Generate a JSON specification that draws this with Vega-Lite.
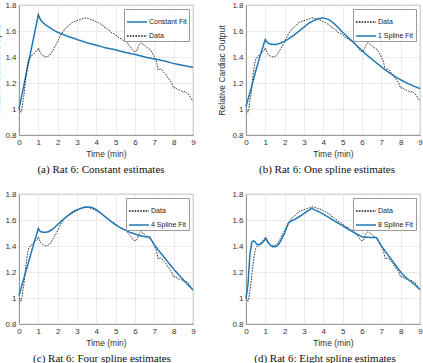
{
  "$schema": "https://vega.github.io/schema/vega-lite/v6.json",
  "padding": {"left": -8, "top": 0, "right": 0, "bottom": 0},
  "background": "white",
  "datasets": {
    "obs": [
      {"t": 0.0, "v": 1.0, "series": "Data"}, {"t": 0.05, "v": 0.99, "series": "Data"}, {"t": 0.1, "v": 0.975, "series": "Data"},
      {"t": 0.15, "v": 1.0, "series": "Data"}, {"t": 0.2, "v": 1.06, "series": "Data"}, {"t": 0.25, "v": 1.1, "series": "Data"},
      {"t": 0.3, "v": 1.17, "series": "Data"}, {"t": 0.35, "v": 1.24, "series": "Data"}, {"t": 0.4, "v": 1.3, "series": "Data"},
      {"t": 0.45, "v": 1.35, "series": "Data"}, {"t": 0.5, "v": 1.38, "series": "Data"}, {"t": 0.6, "v": 1.405, "series": "Data"},
      {"t": 0.7, "v": 1.415, "series": "Data"}, {"t": 0.8, "v": 1.43, "series": "Data"}, {"t": 0.85, "v": 1.44, "series": "Data"},
      {"t": 0.9, "v": 1.445, "series": "Data"}, {"t": 0.95, "v": 1.45, "series": "Data"}, {"t": 1.0, "v": 1.47, "series": "Data"},
      {"t": 1.05, "v": 1.455, "series": "Data"}, {"t": 1.1, "v": 1.43, "series": "Data"}, {"t": 1.2, "v": 1.415, "series": "Data"},
      {"t": 1.3, "v": 1.405, "series": "Data"}, {"t": 1.4, "v": 1.4, "series": "Data"}, {"t": 1.5, "v": 1.405, "series": "Data"},
      {"t": 1.6, "v": 1.415, "series": "Data"}, {"t": 1.7, "v": 1.44, "series": "Data"}, {"t": 1.8, "v": 1.465, "series": "Data"},
      {"t": 1.9, "v": 1.49, "series": "Data"}, {"t": 2.0, "v": 1.52, "series": "Data"}, {"t": 2.1, "v": 1.55, "series": "Data"},
      {"t": 2.2, "v": 1.58, "series": "Data"}, {"t": 2.3, "v": 1.6, "series": "Data"}, {"t": 2.4, "v": 1.62, "series": "Data"},
      {"t": 2.5, "v": 1.63, "series": "Data"}, {"t": 2.6, "v": 1.645, "series": "Data"}, {"t": 2.7, "v": 1.66, "series": "Data"},
      {"t": 2.8, "v": 1.67, "series": "Data"}, {"t": 2.9, "v": 1.675, "series": "Data"}, {"t": 3.0, "v": 1.68, "series": "Data"},
      {"t": 3.1, "v": 1.685, "series": "Data"}, {"t": 3.2, "v": 1.69, "series": "Data"}, {"t": 3.3, "v": 1.695, "series": "Data"},
      {"t": 3.4, "v": 1.7, "series": "Data"}, {"t": 3.5, "v": 1.7, "series": "Data"}, {"t": 3.6, "v": 1.695, "series": "Data"},
      {"t": 3.7, "v": 1.69, "series": "Data"}, {"t": 3.8, "v": 1.685, "series": "Data"}, {"t": 3.9, "v": 1.68, "series": "Data"},
      {"t": 4.0, "v": 1.67, "series": "Data"}, {"t": 4.1, "v": 1.665, "series": "Data"}, {"t": 4.2, "v": 1.655, "series": "Data"},
      {"t": 4.3, "v": 1.65, "series": "Data"}, {"t": 4.4, "v": 1.63, "series": "Data"}, {"t": 4.5, "v": 1.625, "series": "Data"},
      {"t": 4.6, "v": 1.61, "series": "Data"}, {"t": 4.7, "v": 1.6, "series": "Data"}, {"t": 4.8, "v": 1.585, "series": "Data"},
      {"t": 4.9, "v": 1.58, "series": "Data"}, {"t": 5.0, "v": 1.57, "series": "Data"}, {"t": 5.1, "v": 1.555, "series": "Data"},
      {"t": 5.2, "v": 1.545, "series": "Data"}, {"t": 5.3, "v": 1.54, "series": "Data"}, {"t": 5.4, "v": 1.525, "series": "Data"},
      {"t": 5.5, "v": 1.52, "series": "Data"}, {"t": 5.6, "v": 1.51, "series": "Data"}, {"t": 5.7, "v": 1.49, "series": "Data"},
      {"t": 5.8, "v": 1.47, "series": "Data"}, {"t": 5.9, "v": 1.45, "series": "Data"}, {"t": 6.0, "v": 1.44, "series": "Data"},
      {"t": 6.1, "v": 1.45, "series": "Data"}, {"t": 6.2, "v": 1.49, "series": "Data"}, {"t": 6.3, "v": 1.51, "series": "Data"},
      {"t": 6.4, "v": 1.5, "series": "Data"}, {"t": 6.5, "v": 1.49, "series": "Data"}, {"t": 6.6, "v": 1.475, "series": "Data"},
      {"t": 6.7, "v": 1.465, "series": "Data"}, {"t": 6.8, "v": 1.455, "series": "Data"}, {"t": 6.9, "v": 1.43, "series": "Data"},
      {"t": 7.0, "v": 1.4, "series": "Data"}, {"t": 7.1, "v": 1.37, "series": "Data"}, {"t": 7.2, "v": 1.3, "series": "Data"},
      {"t": 7.3, "v": 1.31, "series": "Data"}, {"t": 7.4, "v": 1.3, "series": "Data"}, {"t": 7.5, "v": 1.28, "series": "Data"},
      {"t": 7.6, "v": 1.265, "series": "Data"}, {"t": 7.7, "v": 1.24, "series": "Data"}, {"t": 7.8, "v": 1.22, "series": "Data"},
      {"t": 7.9, "v": 1.2, "series": "Data"}, {"t": 8.0, "v": 1.16, "series": "Data"}, {"t": 8.1, "v": 1.165, "series": "Data"},
      {"t": 8.2, "v": 1.15, "series": "Data"}, {"t": 8.3, "v": 1.145, "series": "Data"}, {"t": 8.4, "v": 1.14, "series": "Data"},
      {"t": 8.5, "v": 1.13, "series": "Data"}, {"t": 8.6, "v": 1.135, "series": "Data"}, {"t": 8.7, "v": 1.12, "series": "Data"},
      {"t": 8.8, "v": 1.11, "series": "Data"}, {"t": 8.9, "v": 1.08, "series": "Data"}, {"t": 9.0, "v": 1.06, "series": "Data"}
    ],
    "fitA": [
      {"t": 0, "v": 1.0, "series": "Constant Fit"}, {"t": 1.0, "v": 1.725, "series": "Constant Fit"}, {"t": 1.1, "v": 1.69, "series": "Constant Fit"},
      {"t": 1.2, "v": 1.67, "series": "Constant Fit"}, {"t": 1.35, "v": 1.65, "series": "Constant Fit"}, {"t": 1.5, "v": 1.635, "series": "Constant Fit"},
      {"t": 1.75, "v": 1.61, "series": "Constant Fit"}, {"t": 2.0, "v": 1.59, "series": "Constant Fit"}, {"t": 2.5, "v": 1.56, "series": "Constant Fit"},
      {"t": 3.0, "v": 1.535, "series": "Constant Fit"}, {"t": 3.5, "v": 1.51, "series": "Constant Fit"}, {"t": 4.0, "v": 1.49, "series": "Constant Fit"},
      {"t": 4.5, "v": 1.47, "series": "Constant Fit"}, {"t": 5.0, "v": 1.455, "series": "Constant Fit"}, {"t": 5.5, "v": 1.435, "series": "Constant Fit"},
      {"t": 6.0, "v": 1.42, "series": "Constant Fit"}, {"t": 6.5, "v": 1.4, "series": "Constant Fit"}, {"t": 7.0, "v": 1.385, "series": "Constant Fit"},
      {"t": 7.5, "v": 1.37, "series": "Constant Fit"}, {"t": 8.0, "v": 1.35, "series": "Constant Fit"}, {"t": 8.5, "v": 1.335, "series": "Constant Fit"},
      {"t": 9.0, "v": 1.32, "series": "Constant Fit"}
    ],
    "fitB": [
      {"t": 0, "v": 1.02, "series": "1 Spline Fit"}, {"t": 0.25, "v": 1.15, "series": "1 Spline Fit"}, {"t": 0.5, "v": 1.29, "series": "1 Spline Fit"},
      {"t": 0.75, "v": 1.42, "series": "1 Spline Fit"}, {"t": 1.0, "v": 1.535, "series": "1 Spline Fit"}, {"t": 1.1, "v": 1.51, "series": "1 Spline Fit"},
      {"t": 1.25, "v": 1.5, "series": "1 Spline Fit"}, {"t": 1.5, "v": 1.495, "series": "1 Spline Fit"}, {"t": 1.75, "v": 1.505, "series": "1 Spline Fit"},
      {"t": 2.0, "v": 1.52, "series": "1 Spline Fit"}, {"t": 2.25, "v": 1.545, "series": "1 Spline Fit"}, {"t": 2.5, "v": 1.57, "series": "1 Spline Fit"},
      {"t": 2.75, "v": 1.6, "series": "1 Spline Fit"}, {"t": 3.0, "v": 1.63, "series": "1 Spline Fit"}, {"t": 3.25, "v": 1.66, "series": "1 Spline Fit"},
      {"t": 3.5, "v": 1.68, "series": "1 Spline Fit"}, {"t": 3.75, "v": 1.695, "series": "1 Spline Fit"}, {"t": 4.0, "v": 1.7, "series": "1 Spline Fit"},
      {"t": 4.25, "v": 1.69, "series": "1 Spline Fit"}, {"t": 4.5, "v": 1.665, "series": "1 Spline Fit"}, {"t": 4.75, "v": 1.63, "series": "1 Spline Fit"},
      {"t": 5.0, "v": 1.59, "series": "1 Spline Fit"}, {"t": 5.25, "v": 1.555, "series": "1 Spline Fit"}, {"t": 5.5, "v": 1.52, "series": "1 Spline Fit"},
      {"t": 5.75, "v": 1.485, "series": "1 Spline Fit"}, {"t": 6.0, "v": 1.45, "series": "1 Spline Fit"}, {"t": 6.25, "v": 1.415, "series": "1 Spline Fit"},
      {"t": 6.5, "v": 1.385, "series": "1 Spline Fit"}, {"t": 6.75, "v": 1.355, "series": "1 Spline Fit"}, {"t": 7.0, "v": 1.325, "series": "1 Spline Fit"},
      {"t": 7.25, "v": 1.295, "series": "1 Spline Fit"}, {"t": 7.5, "v": 1.27, "series": "1 Spline Fit"}, {"t": 7.75, "v": 1.245, "series": "1 Spline Fit"},
      {"t": 8.0, "v": 1.225, "series": "1 Spline Fit"}, {"t": 8.25, "v": 1.205, "series": "1 Spline Fit"}, {"t": 8.5, "v": 1.188, "series": "1 Spline Fit"},
      {"t": 8.75, "v": 1.172, "series": "1 Spline Fit"}, {"t": 9.0, "v": 1.157, "series": "1 Spline Fit"}
    ],
    "fitC": [
      {"t": 0, "v": 1.02, "series": "4 Spline Fit"}, {"t": 0.25, "v": 1.15, "series": "4 Spline Fit"}, {"t": 0.5, "v": 1.28, "series": "4 Spline Fit"},
      {"t": 0.75, "v": 1.41, "series": "4 Spline Fit"}, {"t": 1.0, "v": 1.535, "series": "4 Spline Fit"}, {"t": 1.1, "v": 1.512, "series": "4 Spline Fit"},
      {"t": 1.25, "v": 1.505, "series": "4 Spline Fit"}, {"t": 1.5, "v": 1.508, "series": "4 Spline Fit"}, {"t": 1.75, "v": 1.53, "series": "4 Spline Fit"},
      {"t": 2.0, "v": 1.565, "series": "4 Spline Fit"}, {"t": 2.25, "v": 1.6, "series": "4 Spline Fit"}, {"t": 2.5, "v": 1.63, "series": "4 Spline Fit"},
      {"t": 2.75, "v": 1.655, "series": "4 Spline Fit"}, {"t": 3.0, "v": 1.677, "series": "4 Spline Fit"}, {"t": 3.25, "v": 1.692, "series": "4 Spline Fit"},
      {"t": 3.5, "v": 1.7, "series": "4 Spline Fit"}, {"t": 3.75, "v": 1.698, "series": "4 Spline Fit"}, {"t": 4.0, "v": 1.68, "series": "4 Spline Fit"},
      {"t": 4.25, "v": 1.65, "series": "4 Spline Fit"}, {"t": 4.5, "v": 1.62, "series": "4 Spline Fit"}, {"t": 4.75, "v": 1.59, "series": "4 Spline Fit"},
      {"t": 5.0, "v": 1.562, "series": "4 Spline Fit"}, {"t": 5.25, "v": 1.54, "series": "4 Spline Fit"}, {"t": 5.5, "v": 1.522, "series": "4 Spline Fit"},
      {"t": 5.75, "v": 1.505, "series": "4 Spline Fit"}, {"t": 6.0, "v": 1.492, "series": "4 Spline Fit"}, {"t": 6.25, "v": 1.48, "series": "4 Spline Fit"},
      {"t": 6.5, "v": 1.472, "series": "4 Spline Fit"}, {"t": 6.75, "v": 1.47, "series": "4 Spline Fit"}, {"t": 7.0, "v": 1.41, "series": "4 Spline Fit"},
      {"t": 7.25, "v": 1.36, "series": "4 Spline Fit"}, {"t": 7.5, "v": 1.315, "series": "4 Spline Fit"}, {"t": 7.75, "v": 1.268, "series": "4 Spline Fit"},
      {"t": 8.0, "v": 1.222, "series": "4 Spline Fit"}, {"t": 8.25, "v": 1.18, "series": "4 Spline Fit"}, {"t": 8.5, "v": 1.14, "series": "4 Spline Fit"},
      {"t": 8.75, "v": 1.1, "series": "4 Spline Fit"}, {"t": 9.0, "v": 1.062, "series": "4 Spline Fit"}
    ],
    "fitD": [
      {"t": 0, "v": 1.0, "series": "8 Spline Fit"}, {"t": 0.1, "v": 1.1, "series": "8 Spline Fit"}, {"t": 0.2, "v": 1.33, "series": "8 Spline Fit"},
      {"t": 0.3, "v": 1.43, "series": "8 Spline Fit"}, {"t": 0.4, "v": 1.44, "series": "8 Spline Fit"}, {"t": 0.5, "v": 1.425, "series": "8 Spline Fit"},
      {"t": 0.6, "v": 1.41, "series": "8 Spline Fit"}, {"t": 0.7, "v": 1.41, "series": "8 Spline Fit"}, {"t": 0.8, "v": 1.42, "series": "8 Spline Fit"},
      {"t": 0.9, "v": 1.435, "series": "8 Spline Fit"}, {"t": 1.0, "v": 1.45, "series": "8 Spline Fit"}, {"t": 1.05, "v": 1.455, "series": "8 Spline Fit"},
      {"t": 1.1, "v": 1.44, "series": "8 Spline Fit"}, {"t": 1.2, "v": 1.415, "series": "8 Spline Fit"}, {"t": 1.3, "v": 1.4, "series": "8 Spline Fit"},
      {"t": 1.4, "v": 1.395, "series": "8 Spline Fit"}, {"t": 1.5, "v": 1.395, "series": "8 Spline Fit"}, {"t": 1.6, "v": 1.4, "series": "8 Spline Fit"},
      {"t": 1.7, "v": 1.415, "series": "8 Spline Fit"}, {"t": 1.8, "v": 1.44, "series": "8 Spline Fit"}, {"t": 1.9, "v": 1.47, "series": "8 Spline Fit"},
      {"t": 2.0, "v": 1.5, "series": "8 Spline Fit"}, {"t": 2.1, "v": 1.54, "series": "8 Spline Fit"}, {"t": 2.2, "v": 1.575, "series": "8 Spline Fit"},
      {"t": 2.3, "v": 1.59, "series": "8 Spline Fit"}, {"t": 2.5, "v": 1.603, "series": "8 Spline Fit"}, {"t": 2.75, "v": 1.625, "series": "8 Spline Fit"},
      {"t": 3.0, "v": 1.65, "series": "8 Spline Fit"}, {"t": 3.2, "v": 1.67, "series": "8 Spline Fit"}, {"t": 3.4, "v": 1.69, "series": "8 Spline Fit"},
      {"t": 3.55, "v": 1.678, "series": "8 Spline Fit"}, {"t": 3.75, "v": 1.665, "series": "8 Spline Fit"}, {"t": 4.0, "v": 1.645, "series": "8 Spline Fit"},
      {"t": 4.5, "v": 1.6, "series": "8 Spline Fit"}, {"t": 5.0, "v": 1.555, "series": "8 Spline Fit"}, {"t": 5.5, "v": 1.51, "series": "8 Spline Fit"},
      {"t": 6.0, "v": 1.47, "series": "8 Spline Fit"}, {"t": 6.5, "v": 1.465, "series": "8 Spline Fit"}, {"t": 6.75, "v": 1.465, "series": "8 Spline Fit"},
      {"t": 7.0, "v": 1.4, "series": "8 Spline Fit"}, {"t": 7.25, "v": 1.35, "series": "8 Spline Fit"}, {"t": 7.5, "v": 1.3, "series": "8 Spline Fit"},
      {"t": 7.75, "v": 1.25, "series": "8 Spline Fit"}, {"t": 8.0, "v": 1.2, "series": "8 Spline Fit"}, {"t": 8.25, "v": 1.16, "series": "8 Spline Fit"},
      {"t": 8.5, "v": 1.13, "series": "8 Spline Fit"}, {"t": 8.75, "v": 1.1, "series": "8 Spline Fit"}, {"t": 9.0, "v": 1.065, "series": "8 Spline Fit"}
    ]
  },
  "columns": 2,
  "spacing": {"row": 14, "column": 20},
  "resolve": {
    "scale": {"color": "independent", "strokeDash": "independent"},
    "legend": {"color": "independent", "strokeDash": "independent"}
  },
  "concat": [
    {
      "width": 174, "height": 130,
      "title": {"text": "(a) Rat 6: Constant estimates", "dx": -5},
      "encoding": {
        "x": {"field": "t", "type": "quantitative", "scale": {"domain": [0, 9], "nice": false}, "axis": {"title": "Time (min)", "values": [0, 1, 2, 3, 4, 5, 6, 7, 8, 9]}},
        "y": {"field": "v", "type": "quantitative", "scale": {"domain": [0.8, 1.8], "nice": false, "zero": false}, "axis": {"title": "Relative Cardiac Output", "titlePadding": 3, "values": [0.8, 1, 1.2, 1.4, 1.6, 1.8], "format": "~g"}},
        "color": {"field": "series", "type": "nominal", "title": null, "scale": {"domain": ["Constant Fit", "Data"], "range": ["#1f78b4", "#1a1a1a"]}},
        "strokeDash": {"field": "series", "type": "nominal", "title": null, "scale": {"domain": ["Constant Fit", "Data"], "range": [[1, 0], [1.6, 1.2]]}}
      },
      "layer": [
        {"data": {"name": "fitA"}, "mark": {"type": "line", "strokeWidth": 1.5}},
        {"data": {"name": "obs"}, "mark": {"type": "line", "strokeWidth": 0.9}}
      ]
    },
    {
      "width": 174, "height": 130,
      "title": {"text": "(b) Rat 6: One spline estimates", "dx": -6},
      "encoding": {
        "x": {"field": "t", "type": "quantitative", "scale": {"domain": [0, 9], "nice": false}, "axis": {"title": "Time (min)", "values": [0, 1, 2, 3, 4, 5, 6, 7, 8, 9]}},
        "y": {"field": "v", "type": "quantitative", "scale": {"domain": [0.8, 1.8], "nice": false, "zero": false}, "axis": {"title": "Relative Cardiac Output", "values": [0.8, 1, 1.2, 1.4, 1.6, 1.8], "format": "~g"}},
        "color": {"field": "series", "type": "nominal", "title": null, "scale": {"domain": ["Data", "1 Spline Fit"], "range": ["#1a1a1a", "#1f78b4"]}},
        "strokeDash": {"field": "series", "type": "nominal", "title": null, "scale": {"domain": ["Data", "1 Spline Fit"], "range": [[1.6, 1.2], [1, 0]]}}
      },
      "layer": [
        {"data": {"name": "obs"}, "mark": {"type": "line", "strokeWidth": 0.9}},
        {"data": {"name": "fitB"}, "mark": {"type": "line", "strokeWidth": 1.5}}
      ]
    },
    {
      "width": 174, "height": 130,
      "title": {"text": "(c) Rat 6: Four spline estimates", "dx": -4},
      "encoding": {
        "x": {"field": "t", "type": "quantitative", "scale": {"domain": [0, 9], "nice": false}, "axis": {"title": "Time (min)", "values": [0, 1, 2, 3, 4, 5, 6, 7, 8, 9]}},
        "y": {"field": "v", "type": "quantitative", "scale": {"domain": [0.8, 1.8], "nice": false, "zero": false}, "axis": {"title": null, "values": [0.8, 1, 1.2, 1.4, 1.6, 1.8], "format": "~g"}},
        "color": {"field": "series", "type": "nominal", "title": null, "scale": {"domain": ["Data", "4 Spline Fit"], "range": ["#1a1a1a", "#1f78b4"]}},
        "strokeDash": {"field": "series", "type": "nominal", "title": null, "scale": {"domain": ["Data", "4 Spline Fit"], "range": [[1.6, 1.2], [1, 0]]}}
      },
      "layer": [
        {"data": {"name": "obs"}, "mark": {"type": "line", "strokeWidth": 0.9}},
        {"data": {"name": "fitC"}, "mark": {"type": "line", "strokeWidth": 1.5}}
      ]
    },
    {
      "width": 174, "height": 130,
      "title": {"text": "(d) Rat 6: Eight spline estimates", "dx": -8},
      "encoding": {
        "x": {"field": "t", "type": "quantitative", "scale": {"domain": [0, 9], "nice": false}, "axis": {"title": "Time (min)", "values": [0, 1, 2, 3, 4, 5, 6, 7, 8, 9]}},
        "y": {"field": "v", "type": "quantitative", "scale": {"domain": [0.8, 1.8], "nice": false, "zero": false}, "axis": {"title": null, "values": [0.8, 1, 1.2, 1.4, 1.6, 1.8], "format": "~g"}},
        "color": {"field": "series", "type": "nominal", "title": null, "scale": {"domain": ["Data", "8 Spline Fit"], "range": ["#1a1a1a", "#1f78b4"]}},
        "strokeDash": {"field": "series", "type": "nominal", "title": null, "scale": {"domain": ["Data", "8 Spline Fit"], "range": [[1.6, 1.2], [1, 0]]}}
      },
      "layer": [
        {"data": {"name": "obs"}, "mark": {"type": "line", "strokeWidth": 0.9}},
        {"data": {"name": "fitD"}, "mark": {"type": "line", "strokeWidth": 1.5}}
      ]
    }
  ],
  "config": {
    "font": "Liberation Sans",
    "view": {"stroke": "#8a8a8a", "strokeWidth": 0.8},
    "title": {"orient": "bottom", "font": "Liberation Serif", "fontSize": 11, "fontWeight": "normal", "color": "#111", "offset": 6, "anchor": "middle"},
    "axis": {
      "labelFont": "Liberation Sans", "labelFontSize": 8, "labelColor": "#333",
      "titleFont": "Liberation Sans", "titleFontSize": 8.5, "titleFontWeight": "normal", "titleColor": "#333",
      "gridColor": "#e3e3e3", "gridWidth": 0.7, "domainColor": "#8a8a8a", "domainWidth": 0.8,
      "ticks": false, "labelPadding": 3, "titlePadding": 3
    },
    "axisX": {"labelFlush": false},
    "axisY": {"labelFlush": false, "titlePadding": 5},
    "legend": {
      "orient": "top-right", "offset": 4, "fillColor": "white", "strokeColor": "#9a9a9a", "padding": 2,
      "labelFont": "Liberation Sans", "labelFontSize": 7, "labelColor": "#222", "labelOffset": 1,
      "symbolType": "stroke", "symbolSize": 400, "symbolStrokeWidth": 1.3, "rowPadding": 0, "cornerRadius": 0
    }
  }
}
